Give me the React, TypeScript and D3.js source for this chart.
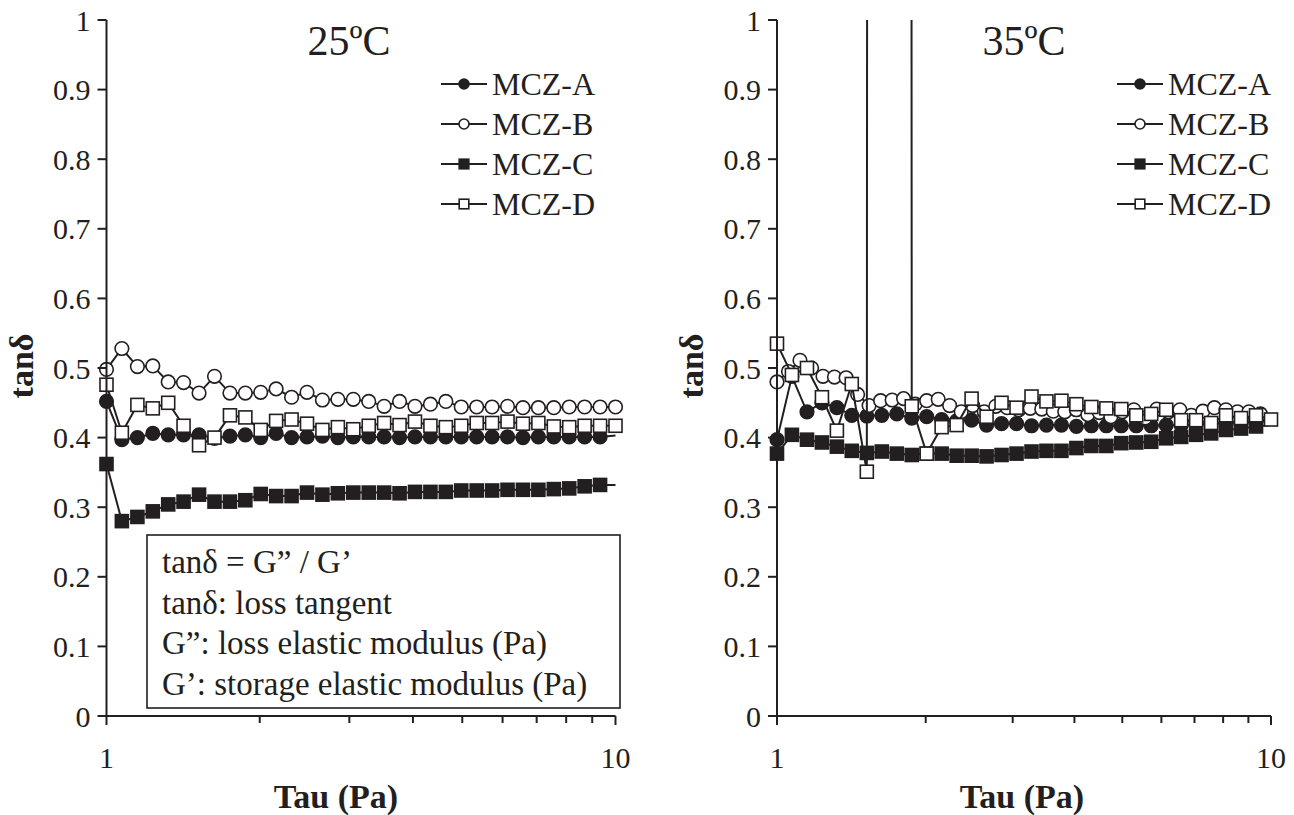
import React from 'react'
import * as d3 from 'd3'

const INK = '#231f20'
const FONT = '"Liberation Serif", "Times New Roman", serif'

// stress steps (Pa) shared by most sweeps
const tau = [1, 1.072, 1.15, 1.233, 1.322, 1.417, 1.52, 1.63, 1.748, 1.874, 2.009, 2.154, 2.31, 2.477, 2.656, 2.848,
  3.054, 3.275, 3.511, 3.765, 4.037, 4.329, 4.642, 4.977, 5.337, 5.722, 6.136, 6.579, 7.055, 7.565, 8.111, 8.697, 9.326, 10]
// MCZ-B at 35ºC was logged on a finer grid
const tauB35 = [1, 1.055, 1.113, 1.175, 1.239, 1.307, 1.38, 1.456, 1.536, 1.621, 1.71, 1.804, 1.904, 2.009, 2.12,
  2.236, 2.36, 2.49, 2.627, 2.772, 2.924, 3.086, 3.256, 3.435, 3.625, 3.824, 4.035, 4.258, 4.492, 4.74, 5.0,
  5.276, 5.567, 5.873, 6.197, 6.539, 6.899, 7.279, 7.68, 8.104, 8.551, 9.022, 9.519]

// 25ºC
const a25 = [0.452, 0.397, 0.4, 0.406, 0.404, 0.404, 0.404, 0.399, 0.402, 0.404, 0.4, 0.406, 0.4, 0.401, 0.402, 0.4,
  0.401, 0.401, 0.401, 0.4, 0.401, 0.401, 0.401, 0.401, 0.401, 0.401, 0.401, 0.4, 0.401, 0.401, 0.401, 0.401, 0.401, 0.403]
const b25 = [0.498, 0.528, 0.502, 0.503, 0.48, 0.479, 0.464, 0.488, 0.464, 0.464, 0.465, 0.47, 0.458, 0.465, 0.454, 0.455,
  0.455, 0.452, 0.445, 0.452, 0.445, 0.448, 0.452, 0.444, 0.444, 0.444, 0.445, 0.443, 0.443, 0.443, 0.444, 0.444, 0.444, 0.444]
const c25 = [0.362, 0.28, 0.286, 0.294, 0.304, 0.308, 0.318, 0.308, 0.308, 0.31, 0.319, 0.316, 0.316, 0.321, 0.318, 0.32,
  0.321, 0.321, 0.321, 0.32, 0.322, 0.322, 0.322, 0.324, 0.324, 0.324, 0.325, 0.325, 0.325, 0.326, 0.327, 0.33, 0.332, 0.332]
const d25 = [0.476, 0.407, 0.447, 0.442, 0.45, 0.417, 0.389, 0.4, 0.432, 0.429, 0.411, 0.424, 0.426, 0.42, 0.411, 0.415,
  0.412, 0.417, 0.421, 0.418, 0.423, 0.417, 0.415, 0.417, 0.421, 0.421, 0.423, 0.42, 0.421, 0.416, 0.415, 0.417, 0.417, 0.417]

// 35ºC
const a35 = [0.397, 0.488, 0.437, 0.45, 0.443, 0.432, 0.431, 0.432, 0.434, 0.428, 0.43, 0.426, 0.424, 0.425, 0.418, 0.42,
  0.42, 0.417, 0.418, 0.418, 0.416, 0.417, 0.417, 0.417, 0.417, 0.417, 0.418, 0.418, 0.419, 0.42, 0.421, 0.422, 0.423, 0.425]
const b35 = [0.48, 0.495, 0.511, 0.5, 0.488, 0.487, 0.486, 0.462, 0.446, 0.453, 0.454, 0.456, 0.448, 0.453, 0.455, 0.446,
  0.437, 0.446, 0.437, 0.445, 0.443, 0.44, 0.442, 0.441, 0.438, 0.437, 0.44, 0.433, 0.436, 0.43, 0.437, 0.44, 0.428,
  0.441, 0.437, 0.44, 0.432, 0.438, 0.443, 0.44, 0.437, 0.437, 0.434]
const c35 = [0.377, 0.404, 0.397, 0.393, 0.387, 0.381, 0.378, 0.38, 0.377, 0.375, 0.377, 0.377, 0.374, 0.374, 0.373, 0.375,
  0.377, 0.38, 0.381, 0.381, 0.385, 0.388, 0.388, 0.392, 0.393, 0.394, 0.399, 0.401, 0.404, 0.406, 0.411, 0.413, 0.416, 0.418]
// two off-scale readings (shown as the vertical spikes)
const d35 = [0.535, 0.49, 0.5, 0.458, 0.41, 0.477, 0.351, 40, 40, 0.445, 0.377, 0.415, 0.418, 0.456, 0.43, 0.45,
  0.443, 0.459, 0.452, 0.453, 0.448, 0.444, 0.442, 0.441, 0.432, 0.434, 0.44, 0.425, 0.425, 0.421, 0.432, 0.428, 0.432, 0.426]

const names = ['MCZ-A', 'MCZ-B', 'MCZ-C', 'MCZ-D']
const yTicks = [0, 0.1, 0.2, 0.3, 0.4, 0.5, 0.6, 0.7, 0.8, 0.9, 1]
const xMajor = [1, 10]
const xMinor = [2, 3, 4, 5, 6, 7, 8, 9]
const noteLines = ['tanδ = G” / G’', 'tanδ: loss tangent', 'G”: loss elastic modulus (Pa)', 'G’: storage elastic modulus (Pa)']

const styles = [
  { shape: 'circle', filled: true, tail: true },
  { shape: 'circle', filled: false, tail: false },
  { shape: 'square', filled: true, tail: true },
  { shape: 'square', filled: false, tail: false },
]

const panels = [
  { id: 'p25', title: '25ºC', x0: 106.5, x1: 615.5, titleX: 349, xTitleX: 336, yTitleX: 33, legendX: 441, box: true,
    data: [[tau, a25], [tau, b25], [tau, c25], [tau, d25]] },
  { id: 'p35', title: '35ºC', x0: 777, x1: 1271, titleX: 1024, xTitleX: 1022, yTitleX: 703, legendX: 1117, box: false,
    data: [[tau, a35], [tauB35, b35], [tau, c35], [tau, d35]] },
]

const TOP = 20, BOTTOM = 716

function Marker({ shape, filled, cx, cy, r }) {
  const fill = filled ? INK : '#fff'
  if (shape === 'circle')
    return <circle cx={cx} cy={cy} r={r} fill={fill} stroke={INK} strokeWidth={1.6} />
  return <rect x={cx - r} y={cy - r} width={2 * r} height={2 * r} fill={fill} stroke={INK} strokeWidth={1.6} />
}

function Panel({ p }) {
  const x = d3.scaleLog().domain([1, 10]).range([p.x0, p.x1])
  const y = d3.scaleLinear().domain([0, 1]).range([BOTTOM, TOP])
  const line = d3.line<[number, number]>().x(d => x(d[0])).y(d => y(d[1]))

  return (
    <g>
      <clipPath id={'clip-' + p.id}>
        <rect x={p.x0 - 10} y={TOP} width={p.x1 - p.x0 + 20} height={BOTTOM - TOP} />
      </clipPath>

      {/* series */}
      {p.data.map(([xs, ys], i) => {
        const pts = ys.map((v, j) => [xs[j], v] as [number, number])
        const st = styles[i]
        const marked = st.tail ? pts.slice(0, -1) : pts
        return (
          <g key={i}>
            <path d={line(pts)} fill="none" stroke={INK} strokeWidth={2} clipPath={`url(#clip-${p.id})`} />
            {marked.filter(d => d[1] <= 1).map((d, j) => (
              <Marker key={j} shape={st.shape} filled={st.filled} cx={x(d[0])} cy={y(d[1])}
                r={st.shape === 'circle' ? 6.8 : 6.5} />
            ))}
          </g>
        )
      })}

      {/* y axis */}
      <line x1={p.x0} x2={p.x0} y1={TOP} y2={BOTTOM} stroke={INK} strokeWidth={2} />
      {yTicks.map(t => (
        <g key={t}>
          <line x1={p.x0 - 9} x2={p.x0} y1={y(t)} y2={y(t)} stroke={INK} strokeWidth={2} />
          <text x={p.x0 - 16} y={y(t)} dy="0.35em" textAnchor="end" fontSize={30} fill={INK}>{String(t)}</text>
        </g>
      ))}

      {/* x axis */}
      <line x1={p.x0} x2={p.x1} y1={BOTTOM} y2={BOTTOM} stroke={INK} strokeWidth={2} />
      {xMinor.map(t => (
        <line key={t} x1={x(t)} x2={x(t)} y1={BOTTOM} y2={BOTTOM + 7} stroke={INK} strokeWidth={2} />
      ))}
      {xMajor.map(t => (
        <g key={t}>
          <line x1={x(t)} x2={x(t)} y1={BOTTOM} y2={BOTTOM + 9} stroke={INK} strokeWidth={2} />
          <text x={x(t)} y={768} textAnchor="middle" fontSize={30} fill={INK}>{t}</text>
        </g>
      ))}

      <text x={p.xTitleX} y={808} textAnchor="middle" fontSize={34} fontWeight="bold" fill={INK}>Tau (Pa)</text>
      <text transform={`translate(${p.yTitleX},366) rotate(-90)`} textAnchor="middle" fontSize={34}
        fontWeight="bold" fill={INK}>tanδ</text>
      <text x={p.titleX} y={55} textAnchor="middle" fontSize={42} fill={INK}>{p.title}</text>

      {/* legend */}
      {names.map((n, i) => {
        const ry = 84 + i * 40
        return (
          <g key={n}>
            <line x1={p.legendX} x2={p.legendX + 46} y1={ry} y2={ry} stroke={INK} strokeWidth={2} />
            <Marker shape={styles[i].shape} filled={styles[i].filled} cx={p.legendX + 23} cy={ry}
              r={styles[i].shape === 'circle' ? 5 : 4.8} />
            <text x={p.legendX + 51} y={ry + 11} fontSize={32} fill={INK}>{n}</text>
          </g>
        )
      })}

      {p.box && (
        <g>
          <rect x={147} y={535} width={473} height={173} fill="#fff" stroke={INK} strokeWidth={1.6} />
          {noteLines.map((s, i) => (
            <text key={i} x={162} y={573 + i * 40.5} fontSize={33} fill={INK}>{s}</text>
          ))}
        </g>
      )}
    </g>
  )
}

export default function App() {
  return (
    <svg width={1294} height={815} style={{ position: 'absolute', left: 0, top: 0, background: '#fff' }}
      fontFamily={FONT}>
      <rect width={1294} height={815} fill="#fff" />
      {panels.map(p => <Panel key={p.id} p={p} />)}
    </svg>
  )
}
